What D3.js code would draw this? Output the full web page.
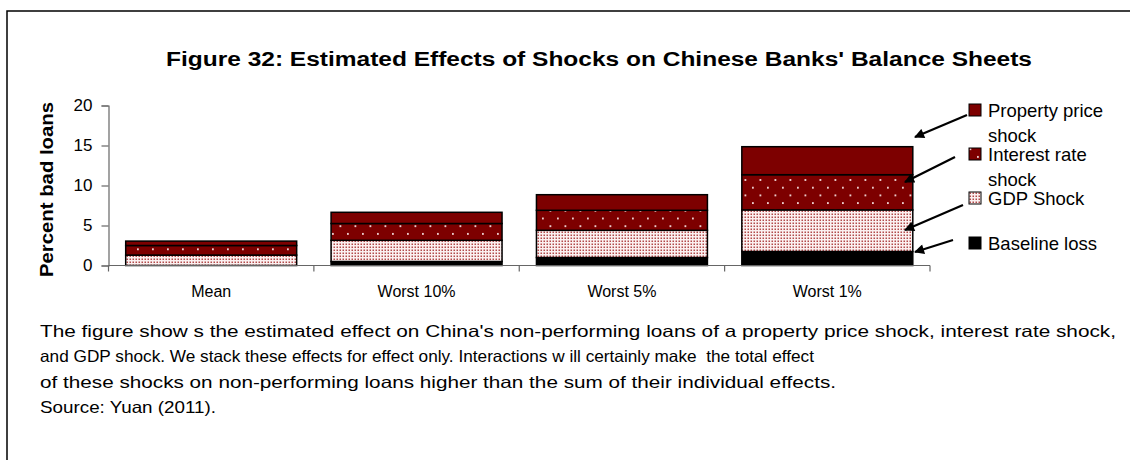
<!DOCTYPE html>
<html><head><meta charset="utf-8">
<script src="https://cdn.jsdelivr.net/npm/d3@7"></script>
<style>
html,body{margin:0;padding:0;background:#fff;}
text{font-family:Arial,"Liberation Sans",sans-serif;}
</style></head>
<body>
<svg id="c" width="1130" height="460"></svg>
<script>
const categories = ["Mean", "Worst 10%", "Worst 5%", "Worst 1%"];
const baselineLoss = [0, 0.5, 1.0, 1.75];
const gdpShock = [1.3, 2.65, 3.4, 5.2];
const interestShock = [1.2, 2.1, 2.5, 4.4];
const propertyShock = [0.55, 1.4, 1.95, 3.5];
const yTicks = [0, 5, 10, 15, 20];
const seriesKeys = ["base", "gdp", "interest", "property"];
const legendLabels = [["Property price", "shock"], ["Interest rate", "shock"], ["GDP Shock"], ["Baseline loss"]];
const captionLines = [
  "The figure show s the estimated effect on China's non-performing loans of a property price shock, interest rate shock,",
  "and GDP shock. We stack these effects for effect only. Interactions w ill certainly make  the total effect",
  "of these shocks on non-performing loans higher than the sum of their individual effects.",
  "Source: Yuan (2011)."
];
const captionWidths = [1076, 774, 796, 176];
const titleText = "Figure 32: Estimated Effects of Shocks on Chinese Banks' Balance Sheets";

const svg = d3.select("#c");
svg.append("rect").attr("width",1130).attr("height",460).attr("fill","#fff");

// patterns
const defs = svg.append("defs");
const pI = defs.append("pattern").attr("id","pInt").attr("patternUnits","userSpaceOnUse")
  .attr("width",15).attr("height",15.4);
pI.append("rect").attr("width",15).attr("height",15.4).attr("fill","#7d0000");
pI.append("rect").attr("x",2).attr("y",2).attr("width",1.8).attr("height",1.8).attr("fill","#f2dada");
pI.append("rect").attr("x",9.5).attr("y",9.7).attr("width",1.8).attr("height",1.8).attr("fill","#f2dada");
const pG = defs.append("pattern").attr("id","pGdp").attr("patternUnits","userSpaceOnUse")
  .attr("width",3).attr("height",3);
pG.append("rect").attr("width",3).attr("height",3).attr("fill","#fbf0f0");
pG.append("rect").attr("x",0.5).attr("y",0.5).attr("width",1.5).attr("height",1.5).attr("fill","#b24a4a");

const fills = {base:"#000", gdp:"url(#pGdp)", interest:"url(#pInt)", property:"#7d0000"};

// frame
svg.append("path").attr("d","M7,460V11H1130").attr("fill","none").attr("stroke","#000").attr("stroke-width",1.5);

// title
svg.append("text").attr("x",599).attr("y",66).attr("text-anchor","middle")
  .attr("font-size",19.5).attr("font-weight","bold").attr("textLength",866).attr("lengthAdjust","spacingAndGlyphs")
  .text(titleText);

const x = d3.scaleBand().domain(categories).range([108.5, 930]).paddingInner(0.1675).paddingOuter(0.08375);
const y = d3.scaleLinear().domain([0, 20]).range([265.5, 105.5]);

const rows = categories.map((c,i)=>({cat:c, base:baselineLoss[i], gdp:gdpShock[i], interest:interestShock[i], property:propertyShock[i]}));
const stack = d3.stack().keys(seriesKeys)(rows);

const g = svg.append("g");
stack.forEach(layer=>{
  g.selectAll(null).data(layer.filter(d=>d[1]-d[0]>0)).enter().append("rect")
    .attr("x", d=>x(d.data.cat)).attr("width", x.bandwidth())
    .attr("y", d=>y(d[1])).attr("height", d=>y(d[0])-y(d[1]))
    .attr("fill", fills[layer.key]).attr("stroke","#000").attr("stroke-width",1.5);
});

// y axis
const yAxis = svg.append("g").attr("transform","translate(108.5,0)")
  .call(d3.axisLeft(y).tickValues(yTicks).tickSize(7).tickPadding(9));
yAxis.select(".domain").attr("stroke","#666").attr("stroke-width",1.2);
yAxis.selectAll(".tick line").attr("stroke","#666").attr("stroke-width",1.2);
yAxis.selectAll(".tick text").attr("font-size",17).attr("fill","#000").attr("font-family","Arial, 'Liberation Sans', sans-serif");

// x axis
const xAxisG = svg.append("g").attr("transform","translate(0,265.5)");
xAxisG.append("line").attr("x1",108.5).attr("x2",930).attr("stroke","#666").attr("stroke-width",1.2);
const bounds = categories.map(c=>x(c) - x.step()*x.paddingOuter()).concat([930]);
xAxisG.selectAll("line.tk").data(bounds).enter().append("line").attr("class","tk")
  .attr("x1",d=>d).attr("x2",d=>d).attr("y1",0).attr("y2",6).attr("stroke","#666").attr("stroke-width",1.2);
xAxisG.selectAll("text").data(categories).enter().append("text")
  .attr("x",d=>x(d)+x.bandwidth()/2).attr("y",31).attr("text-anchor","middle")
  .attr("font-size",16).text(d=>d);

// y label
svg.append("text").attr("transform","translate(52.5,189.5) rotate(-90)").attr("text-anchor","middle")
  .attr("font-size",17.5).attr("font-weight","bold").attr("textLength",175).attr("lengthAdjust","spacingAndGlyphs")
  .text("Percent bad loans");

// legend
const legY = [110, 154, 198, 243];
const legFill = ["#7d0000","url(#pInt)","url(#pGdp)","#000"];
const leg = svg.append("g");
legendLabels.forEach((lines,i)=>{
  leg.append("rect").attr("x",969).attr("y",legY[i]-6).attr("width",12).attr("height",12)
    .attr("fill",legFill[i]).attr("stroke","#000").attr("stroke-width",1);
  lines.forEach((t,j)=>{
    leg.append("text").attr("x",988).attr("y",legY[i]+7+j*25).attr("font-size",18.5).text(t);
  });
});

// arrows
defs.append("marker").attr("id","ah").attr("viewBox","0 0 10 10").attr("refX",9).attr("refY",5)
  .attr("markerWidth",12).attr("markerHeight",10).attr("markerUnits","userSpaceOnUse").attr("orient","auto")
  .append("path").attr("d","M0,0L10,5L0,10Z").attr("fill","#000");
const arrows = [[967,115,915,137],[955,157,905,182],[963,205,905,230],[953,240,915,252]];
svg.selectAll("line.ar").data(arrows).enter().append("line").attr("class","ar")
  .attr("x1",d=>d[0]).attr("y1",d=>d[1]).attr("x2",d=>d[2]).attr("y2",d=>d[3])
  .attr("stroke","#000").attr("stroke-width",2.2).attr("marker-end","url(#ah)");

// caption
const capY = [337, 362, 388, 413];
svg.selectAll("text.cap").data(captionLines).enter().append("text").attr("class","cap")
  .attr("x",40).attr("y",(d,i)=>capY[i]).attr("font-size",16.5).style("white-space","pre")
  .attr("textLength",(d,i)=>captionWidths[i]).attr("lengthAdjust","spacingAndGlyphs").text(d=>d);
</script>
</body></html>
